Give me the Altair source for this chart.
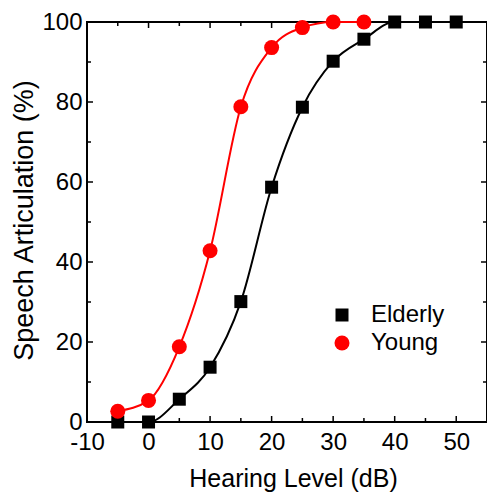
import altair as alt
import pandas as pd

# Data
x_elderly = [-5, 0, 5, 10, 15, 20, 25, 30, 35, 40, 45, 50]
y_elderly = [0, 0, 5.7, 13.7, 30.1, 58.7, 78.7, 90.2, 95.7, 100, 100, 100]
x_young = [-5, 0, 5, 10, 15, 20, 25, 30, 35]
y_young = [2.7, 5.4, 18.8, 42.8, 78.8, 93.6, 98.6, 100, 100]
groups = ["Elderly", "Young"]

x_major = [-10, 0, 10, 20, 30, 40, 50]
x_minor = [-5, 5, 15, 25, 35, 45]
y_major = [0, 20, 40, 60, 80, 100]
y_minor = [10, 30, 50, 70, 90]

df = pd.concat([
    pd.DataFrame({"x": x_elderly, "y": y_elderly, "g": groups[0]}),
    pd.DataFrame({"x": x_young, "y": y_young, "g": groups[1]}),
])

W, H = 400, 400
xs = alt.Scale(domain=[-10, 55], nice=False, zero=False)
ys = alt.Scale(domain=[0, 100], nice=False, zero=False)

xaxis = alt.Axis(values=x_major, title="Hearing Level (dB)", ticks=False, tickSize=0,
                 domain=False, grid=False, labelFontSize=24, labelPadding=8,
                 labelExpr="datum.value + ''",
                 titleFontSize=25, titleFontWeight="normal", titleBaseline="alphabetic",
                 titleY=64, titleX=206, labelColor="black", titleColor="black",
                 labelFlush=False)
yaxis = alt.Axis(values=y_major, title="Speech Articulation (%)", ticks=False, tickSize=0,
                 domain=False, grid=False, labelFontSize=24, labelPadding=5,
                 titleFontSize=27, titleFontWeight="normal", titleBaseline="alphabetic",
                 titleX=-55, titleY=198, labelColor="black", titleColor="black",
                 labelFlush=False)

base = alt.Chart(df)

line_e = base.transform_filter(alt.datum.g == "Elderly").mark_line(
    color="black", strokeWidth=2, interpolate="monotone").encode(
    x=alt.X("x:Q", scale=xs, axis=xaxis), y=alt.Y("y:Q", scale=ys, axis=yaxis))
line_y = base.transform_filter(alt.datum.g == "Young").mark_line(
    color="#ff0000", strokeWidth=2, interpolate="monotone").encode(
    x=alt.X("x:Q", scale=xs), y=alt.Y("y:Q", scale=ys))

points = base.mark_point(filled=True, opacity=1, strokeWidth=0).encode(
    x=alt.X("x:Q", scale=xs),
    y=alt.Y("y:Q", scale=ys),
    color=alt.Color("g:N", scale=alt.Scale(domain=groups, range=["black", "#ff0000"]),
                    legend=alt.Legend(title=None, orient="none", legendX=243, legendY=281,
                                      labelFontSize=24, labelOffset=17, rowPadding=4,
                                      padding=0, labelColor="black", symbolStrokeWidth=0,
                                      symbolOpacity=1)),
    shape=alt.Shape("g:N", scale=alt.Scale(domain=groups, range=["square", "circle"])),
    size=alt.Size("g:N", scale=alt.Scale(domain=groups, range=[169, 225])),
)

def xticks(vals, y0, y1):
    return alt.Chart(pd.DataFrame({"t": vals})).mark_rule(color="black", strokeWidth=1.5).encode(
        x=alt.X("t:Q", scale=xs), y=alt.value(y0), y2=alt.value(y1))

def yticks(vals, x0, x1):
    return alt.Chart(pd.DataFrame({"t": vals})).mark_rule(color="black", strokeWidth=1.5).encode(
        y=alt.Y("t:Q", scale=ys), x=alt.value(x0), x2=alt.value(x1))

ticks = [
    xticks(x_major, H, H - 6), xticks(x_minor, H, H - 4),
    xticks(x_major, 0, 6), xticks(x_minor, 0, 4),
    yticks(y_major, 0, 6), yticks(y_minor, 0, 4),
    yticks(y_major, W, W - 6), yticks(y_minor, W, W - 4),
]

chart = alt.layer(line_e, line_y, *ticks, points).properties(
    width=W, height=H,
    autosize=alt.AutoSizeParams(type="none"),
    padding={"left": 87, "top": 22, "right": 0, "bottom": 70},
).configure(font="Liberation Sans").configure_view(stroke="black", strokeWidth=2)

chart.save("out.html", embed_options={"renderer": "svg", "actions": False})
